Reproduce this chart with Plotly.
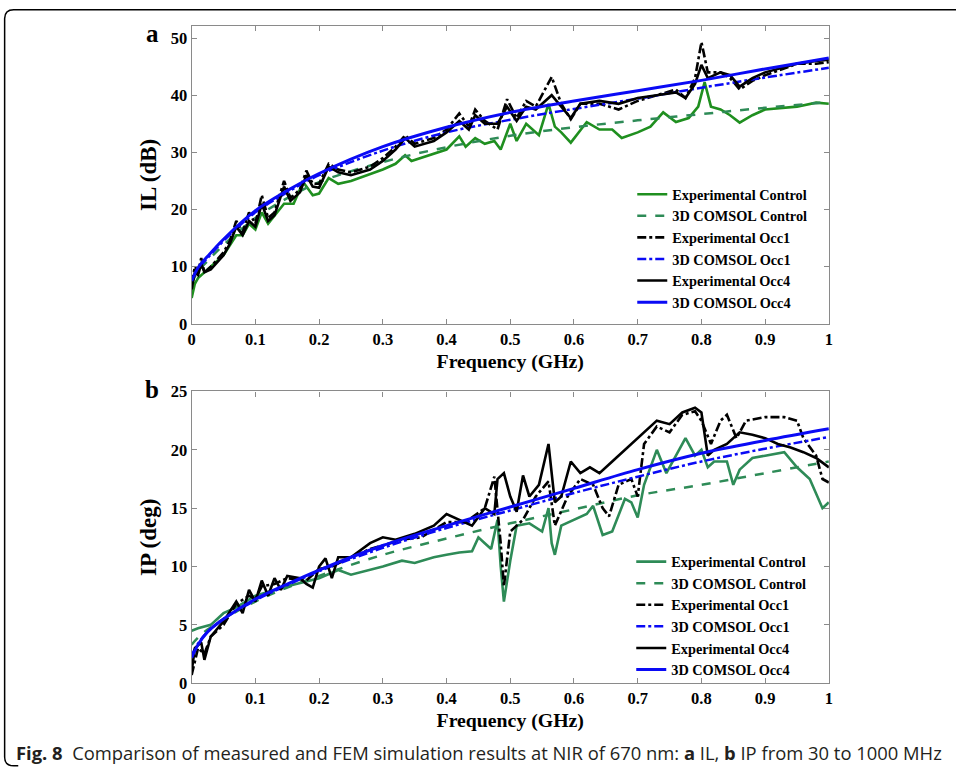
import plotly.graph_objects as go

W, H = 956, 776           # figure size in px
PAGE_W, PAGE_H = W + 16, H + 16   # page including the default 8px body margin
OFF = 8

# ---------------- (a) insertion loss, IL (dB) ----------------
il_exp_occ_f = [0, 0.005, 0.01, 0.015, 0.02, 0.03, 0.05, 0.06, 0.07, 0.08, 0.09, 0.1, 0.11, 0.12, 0.13,
                0.145, 0.155, 0.17, 0.18, 0.19, 0.2, 0.215, 0.23, 0.25, 0.28, 0.3, 0.32, 0.335, 0.35, 0.38,
                0.4, 0.42, 0.435, 0.445, 0.46, 0.48, 0.495, 0.51, 0.525, 0.54, 0.565, 0.58, 0.595, 0.61,
                0.64, 0.67, 0.7, 0.73, 0.76, 0.775, 0.79, 0.8, 0.81, 0.83, 0.845, 0.86, 0.88, 0.9, 0.95,
                0.98, 1.0]
il_exp_occ1 = [7, 10, 9, 11.5, 9, 10, 12.5, 14.5, 18, 16, 19.5, 17.5, 22.5, 18.5, 19.5,
               25, 22, 23.5, 26.8, 24.5, 24.5, 28, 27, 26.5, 27.5, 29, 31, 33, 31.5, 32.5,
               34, 36.8, 34.5, 37.5, 35.5, 34, 39.3, 36, 39, 38, 43.2, 38.5, 35.8, 38.5,
               38.5, 37.5, 39, 40, 41, 39.5, 43, 49.3, 44, 44, 43, 41, 42.5, 43.5, 45.5,
               45.5, 45.8]
il_exp_occ4 = [6, 9, 8.5, 10.5, 9, 9.5, 12, 14, 17, 15.5, 18, 17, 21, 18, 19,
               24, 21.5, 23, 26, 24, 23.8, 27.5, 26.5, 26, 27, 28.5, 30.5, 32.5, 31, 32,
               33.5, 35.5, 34, 36.5, 35, 35, 38, 35.5, 38, 37.5, 40, 38, 36, 38.5,
               39, 38.5, 39.5, 40, 40.5, 39.5, 42, 45.3, 43, 44, 43.5, 41.5, 43, 44, 45.5,
               46, 46.2]

il_exp_ctrl_f = [0, 0.005, 0.01, 0.02, 0.05, 0.07, 0.08, 0.09, 0.1, 0.11, 0.12, 0.145, 0.16, 0.175, 0.19,
                 0.2, 0.215, 0.23, 0.25, 0.3, 0.32, 0.335, 0.345, 0.4, 0.42, 0.43, 0.445, 0.46, 0.475,
                 0.485, 0.5, 0.51, 0.525, 0.545, 0.56, 0.57, 0.58, 0.595, 0.62, 0.64, 0.66, 0.675, 0.7,
                 0.72, 0.74, 0.76, 0.78, 0.795, 0.805, 0.815, 0.83, 0.845, 0.86, 0.88, 0.9, 0.95, 0.98, 1.0]
il_exp_ctrl = [4.5, 7, 8, 9, 12, 15.5, 15.5, 17.5, 16.5, 19.5, 17.5, 21, 21, 24.8, 22.5,
               22.8, 25.5, 24.5, 25, 27, 28, 29.5, 28.5, 30.5, 32.8, 31, 32.5, 31.5, 32,
               30.5, 35, 32, 35, 33, 38.5, 34.5, 33.5, 31.7, 35.3, 34, 34, 32.5, 33.5,
               34.5, 37, 35.3, 36, 38, 42.3, 38, 37.5, 36.5, 35.2, 36.5, 37.5, 38, 38.7, 38.5]

model_f = [0, 0.01, 0.025, 0.05, 0.1, 0.15, 0.2, 0.3, 0.4, 0.5, 0.6, 0.7, 0.8, 0.9, 1.0]
il_fem_ctrl = [7.0, 9.2, 11.0, 13.8, 18.5, 22.0, 24.8, 28.3, 30.9, 32.9, 34.4, 35.6, 36.7, 37.8, 38.8]
il_fem_occ1 = [7.3, 9.6, 11.5, 14.5, 19.5, 23.0, 26.0, 30.3, 33.5, 35.7, 37.6, 39.4, 41.3, 43.1, 44.8]
il_fem_occ4 = [7.5, 9.8, 11.8, 14.8, 19.8, 23.3, 26.3, 31.0, 34.4, 37.0, 39.0, 40.8, 42.6, 44.6, 46.5]

# ---------------- (b) insertion phase, IP (deg) ----------------
ip_exp_occ4_f = [0, 0.005, 0.015, 0.02, 0.03, 0.05, 0.07, 0.08, 0.09, 0.1, 0.11, 0.12, 0.13, 0.14, 0.15,
                 0.17, 0.18, 0.19, 0.2, 0.21, 0.22, 0.23, 0.25, 0.28, 0.3, 0.32, 0.35, 0.38, 0.4, 0.42,
                 0.44, 0.46, 0.475, 0.48, 0.49, 0.5, 0.51, 0.52, 0.53, 0.545, 0.56, 0.57, 0.58, 0.595,
                 0.61, 0.625, 0.64, 0.66, 0.68, 0.7, 0.72, 0.73, 0.75, 0.77, 0.79, 0.8, 0.81, 0.82,
                 0.84, 0.86, 0.88, 0.9, 0.92, 0.94, 0.96, 0.98, 1.0]
ip_exp_occ4 = [1, 3, 3.5, 2, 4, 5.3, 7, 6, 8, 7, 8.8, 7.5, 9, 8, 9.2,
               9, 8.5, 8.2, 10, 10.7, 9, 10.8, 10.8, 12, 12.5, 12.3, 12.8, 13.5, 14.5, 14,
               13.5, 15, 14.5, 17.5, 18, 16, 14.7, 17.8, 16, 17, 20.5, 15.5, 16, 19,
               18, 18.5, 18, 19, 20, 21, 22, 22.5, 22.2, 23.2, 23.6, 23.2, 19.5, 20,
               20.5, 21.5, 21.3, 21, 20.5, 20.2, 19.8, 19.3, 18.5]

ip_exp_occ1_f = [0, 0.01, 0.02, 0.03, 0.05, 0.07, 0.09, 0.1, 0.11, 0.13, 0.15, 0.18, 0.2, 0.22, 0.25,
                 0.28, 0.3, 0.33, 0.36, 0.4, 0.43, 0.46, 0.475, 0.485, 0.49, 0.5, 0.52, 0.54, 0.56,
                 0.57, 0.59, 0.61, 0.63, 0.645, 0.655, 0.67, 0.69, 0.7, 0.71, 0.73, 0.75, 0.77, 0.79,
                 0.8, 0.815, 0.83, 0.84, 0.855, 0.87, 0.9, 0.93, 0.95, 0.96, 0.98, 0.99, 1.0]
ip_exp_occ1 = [0.7, 3, 2.5, 4, 5, 6.8, 7.5, 7.2, 8.3, 8.5, 9, 8.8, 9.8, 10, 10.8,
               11.5, 11.8, 12.3, 12.5, 13.8, 13.8, 15, 17.7, 12, 8.3, 13, 14, 16, 17.3,
               13.5, 16, 17.5, 17, 15, 14.3, 17, 17.5, 16, 20.5, 22, 21.5, 23, 23.3,
               22.5, 20.5, 22.5, 23, 21, 22.5, 22.8, 22.8, 22.5, 21, 19.5, 17.5, 17.2]

ip_exp_ctrl_f = [0, 0.01, 0.03, 0.05, 0.07, 0.1, 0.15, 0.2, 0.23, 0.25, 0.3, 0.33, 0.35, 0.38, 0.4,
                 0.42, 0.44, 0.45, 0.46, 0.47, 0.48, 0.485, 0.49, 0.5, 0.51, 0.53, 0.55, 0.56, 0.565,
                 0.57, 0.58, 0.6, 0.62, 0.63, 0.645, 0.66, 0.68, 0.69, 0.7, 0.71, 0.73, 0.745, 0.76,
                 0.775, 0.79, 0.8, 0.81, 0.82, 0.84, 0.85, 0.86, 0.88, 0.9, 0.93, 0.95, 0.97, 0.99, 1.0]
ip_exp_ctrl = [4.5, 4.7, 5, 6, 6.5, 7.5, 8.3, 9, 9.7, 9.3, 10, 10.5, 10.3, 10.8, 11,
               11.2, 11.3, 12.5, 12, 11.5, 14, 10, 7, 10.5, 13.5, 13.7, 13, 15, 12,
               11, 13.5, 14, 14.5, 15.2, 12.7, 13, 15.8, 15.5, 14.2, 17, 20, 18, 19.5,
               21, 19.5, 20, 18.5, 19, 19, 17, 18.3, 19.3, 19.5, 19.8, 18.5, 17.5, 15, 15.5]

ip_fem_ctrl = [3.3, 3.9, 4.6, 5.5, 7.0, 8.2, 9.2, 11.0, 12.4, 13.7, 14.9, 16.1, 17.0, 18.0, 19.0]
ip_fem_occ1 = [2.4, 3.4, 4.4, 5.5, 7.1, 8.4, 9.6, 11.6, 13.3, 14.8, 16.3, 17.7, 19.0, 20.1, 21.1]
ip_fem_occ4 = [2.2, 3.3, 4.4, 5.5, 7.2, 8.5, 9.7, 11.8, 13.5, 15.1, 16.7, 18.3, 19.7, 20.8, 21.8]

x_ticks = [0, 0.1, 0.2, 0.3, 0.4, 0.5, 0.6, 0.7, 0.8, 0.9, 1]
x_tick_text = ["0", "0.1", "0.2", "0.3", "0.4", "0.5", "0.6", "0.7", "0.8", "0.9", "1"]

GREEN = "#1f8f1f"
GREEN_B = "#2e8b57"
SEA = "#2e8b57"
BLUE = "#0a0af5"
SERIF = "Liberation Serif"


def px_x(p):
    """screen column (whole page fitted to the window) -> paper fraction"""
    return (p * PAGE_W / W - OFF) / W


def px_y(p):
    """screen row (whole page fitted to the window) -> paper fraction"""
    return 1 - (p * PAGE_H / H - OFF) / H


fig = go.Figure()


def add_panel(xa, ya, leg, exp_ctrl, fem_ctrl, exp_occ1, fem_occ1, exp_occ4, fem_occ4, ctrl_color):
    common = dict(xaxis=xa, yaxis=ya, legend=leg, mode="lines", hoverinfo="skip")
    fig.add_trace(go.Scatter(x=exp_ctrl[0], y=exp_ctrl[1], name="Experimental Control",
                             line=dict(color=ctrl_color, width=2.6), **common))
    fig.add_trace(go.Scatter(x=model_f, y=fem_ctrl, name="3D COMSOL Control",
                             line=dict(color=SEA, width=2.5, dash="dash", shape="spline"), **common))
    fig.add_trace(go.Scatter(x=exp_occ1[0], y=exp_occ1[1], name="Experimental Occ1",
                             line=dict(color="black", width=2.6, dash="dashdot"), **common))
    fig.add_trace(go.Scatter(x=model_f, y=fem_occ1, name="3D COMSOL Occ1",
                             line=dict(color=BLUE, width=2.5, dash="dashdot", shape="spline"), **common))
    fig.add_trace(go.Scatter(x=exp_occ4[0], y=exp_occ4[1], name="Experimental Occ4",
                             line=dict(color="black", width=2.6), **common))
    fig.add_trace(go.Scatter(x=model_f, y=fem_occ4, name="3D COMSOL Occ4",
                             line=dict(color=BLUE, width=3, shape="spline"), **common))


add_panel("x", "y", "legend",
          (il_exp_ctrl_f, il_exp_ctrl), il_fem_ctrl,
          (il_exp_occ_f, il_exp_occ1), il_fem_occ1,
          (il_exp_occ_f, il_exp_occ4), il_fem_occ4, GREEN)
add_panel("x2", "y2", "legend2",
          (ip_exp_ctrl_f, ip_exp_ctrl), ip_fem_ctrl,
          (ip_exp_occ1_f, ip_exp_occ1), ip_fem_occ1,
          (ip_exp_occ4_f, ip_exp_occ4), ip_fem_occ4, GREEN_B)

tickfont = dict(family=SERIF, size=16.5, color="black", weight="bold")
xtitlefont = dict(family=SERIF, size=19.8, color="black", weight="bold")
ytitlefont = dict(family=SERIF, size=23, color="black", weight="bold")
axis_common = dict(showline=True, linecolor="#8a8a8a", linewidth=1.2, mirror="ticks",
                   ticks="inside", ticklen=5, tickcolor="#8a8a8a", tickwidth=1,
                   showgrid=False, zeroline=False, tickfont=tickfont)

x_dom = [px_x(194), px_x(826)]
legend_common = dict(xanchor="left", yanchor="top", bgcolor="rgba(0,0,0,0)",
                     font=dict(family=SERIF, size=14.3, color="black", weight="bold"),
                     tracegroupgap=0, itemwidth=30)

fig.update_layout(
    width=W, height=H,
    margin=dict(l=0, r=0, t=0, b=0),
    paper_bgcolor="white", plot_bgcolor="white",
    xaxis=dict(domain=x_dom, anchor="y", range=[0, 1], tickvals=x_ticks, ticktext=x_tick_text,
               title=dict(text="Frequency (GHz)", font=xtitlefont, standoff=6), **axis_common),
    yaxis=dict(domain=[px_y(324), px_y(25)], anchor="x", range=[0, 52.1], tickvals=[0, 10, 20, 30, 40, 50],
               title=dict(text="IL (dB)", font=ytitlefont, standoff=7), **axis_common),
    xaxis2=dict(domain=x_dom, anchor="y2", range=[0, 1], tickvals=x_ticks, ticktext=x_tick_text,
                title=dict(text="Frequency (GHz)", font=xtitlefont, standoff=6), **axis_common),
    yaxis2=dict(domain=[px_y(685), px_y(392)], anchor="x2", range=[0, 25], tickvals=[0, 5, 10, 15, 20, 25],
                title=dict(text="IP (deg)", font=ytitlefont, standoff=7), **axis_common),
    legend=dict(x=px_x(631), y=px_y(178), **legend_common),
    legend2=dict(x=px_x(630), y=px_y(547), **legend_common),
    showlegend=True,
)

# panel letters
for letter, yp in (("a", 32), ("b", 390)):
    fig.add_annotation(text=letter, x=px_x(155), y=px_y(yp), xref="paper", yref="paper",
                       showarrow=False, xanchor="center", yanchor="middle",
                       font=dict(family=SERIF, size=25, color="black", weight="bold"))

# figure caption
fig.add_annotation(
    text="<b>Fig. 8</b>  Comparison of measured and FEM simulation results at NIR of 670 nm: "
         "<b>a</b> IL, <b>b</b> IP from 30 to 1000 MHz",
    x=px_x(18), y=px_y(755), xref="paper", yref="paper", showarrow=False,
    xanchor="left", yanchor="middle",
    font=dict(family="Open Sans", size=18.4, color="#231f20"))

# rounded frame around the figure
r = 9
e = 8.5
frame = (f"M {px_x(956)},{px_y(e)} L {px_x(e + r)},{px_y(e)} "
         f"Q {px_x(e)},{px_y(e)} {px_x(e)},{px_y(e + r)} "
         f"L {px_x(e)},{px_y(768 - r)} Q {px_x(e)},{px_y(768)} {px_x(e + r)},{px_y(768)} "
         f"L {px_x(22)},{px_y(768)}")
fig.add_shape(type="path", path=frame, xref="paper", yref="paper",
              line=dict(color="black", width=1.5), layer="above")

fig.write_html("out.html")
